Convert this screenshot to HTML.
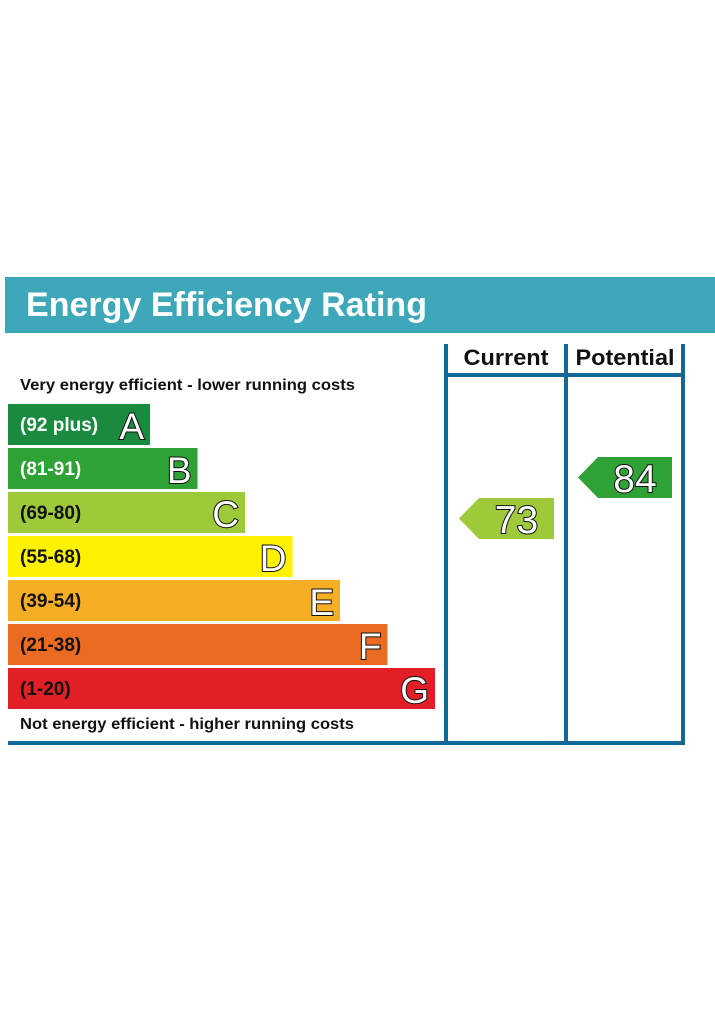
<!DOCTYPE html>
<html><head><meta charset="utf-8"><style>
html,body{margin:0;padding:0;background:#fff;}
svg{display:block;font-family:"Liberation Sans",Arial,sans-serif;}
</style></head><body>
<svg id="c" width="715" height="1033" viewBox="0 0 715 1033" xmlns="http://www.w3.org/2000/svg">
<rect x="5" y="277" width="710" height="56" fill="#3ea7b9"/>
<text x="26" y="316" font-size="34" font-weight="bold" fill="#fff" textLength="401" lengthAdjust="spacingAndGlyphs">Energy Efficiency Rating</text>
<text x="20" y="390" font-size="16" font-weight="bold" fill="#111" textLength="335" lengthAdjust="spacingAndGlyphs">Very energy efficient - lower running costs</text>
<text x="20" y="729" font-size="16" font-weight="bold" fill="#111" textLength="334" lengthAdjust="spacingAndGlyphs">Not energy efficient - higher running costs</text>
<g fill="#13679a">
<rect x="444" y="344" width="4" height="401"/>
<rect x="564" y="344" width="4" height="401"/>
<rect x="681" y="344" width="4" height="401"/>
<rect x="444" y="373" width="241" height="4"/>
<rect x="8" y="741" width="677" height="4"/>
</g>
<text x="506" y="365" font-size="22" font-weight="bold" text-anchor="middle" fill="#111" textLength="85" lengthAdjust="spacingAndGlyphs">Current</text>
<text x="625" y="365" font-size="22" font-weight="bold" text-anchor="middle" fill="#111" textLength="99" lengthAdjust="spacingAndGlyphs">Potential</text>
<g id="bands"></g>
<g id="arrows"></g>
</svg>
<script>
const bandLetters=["A","B","C","D","E","F","G"];
const bandRanges=["(92 plus)","(81-91)","(69-80)","(55-68)","(39-54)","(21-38)","(1-20)"];
const bandMins=[92,81,69,55,39,21,1];
const bandColors=["#1a8a3e","#2fa236","#9dc93b","#fff200","#f6ae25","#ec6b23","#e21e26"];
const currentRating=73;
const potentialRating=84;
const NS="http://www.w3.org/2000/svg";
function bandTop(i){return 404+i*44;}
function bandRight(i){return 150+i*47.5;}
function bandIndex(v){for(let i=0;i<bandMins.length;i++){if(v>=bandMins[i])return i;}return bandMins.length-1;}
const g=document.getElementById('bands');
bandLetters.forEach((L,i)=>{
  const y=bandTop(i),r=bandRight(i);
  const rect=document.createElementNS(NS,'rect');
  rect.setAttribute('x',8);rect.setAttribute('y',y);rect.setAttribute('width',r-8);rect.setAttribute('height',41);rect.setAttribute('fill',bandColors[i]);
  
  
  g.appendChild(rect);
  const t=document.createElementNS(NS,'text');
  t.setAttribute('x',20);t.setAttribute('y',y+27);t.setAttribute('font-size',19);t.setAttribute('font-weight','bold');
  t.setAttribute('fill',i<2?'#fff':'#111');t.textContent=bandRanges[i];
  
  
  g.appendChild(t);
  const l=document.createElementNS(NS,'text');
  l.setAttribute('x',r-6);l.setAttribute('y',y+35);l.setAttribute('font-size',37);l.setAttribute('text-anchor','end');
  l.setAttribute('fill','#fff');l.setAttribute('stroke','#111');l.setAttribute('stroke-width','2');l.setAttribute('paint-order','stroke');l.textContent=L;
  
  
  g.appendChild(l);
});
const ag=document.getElementById('arrows');
function arrow(v,tipX,rightX,name){
  const i=bandIndex(v);
  const yy=(i===2)?bandTop(i)+6:bandTop(i)+9;
  const h=41;
  const p=document.createElementNS(NS,'polygon');
  p.setAttribute('points',`${tipX},${yy+h/2} ${tipX+20},${yy} ${rightX},${yy} ${rightX},${yy+h} ${tipX+20},${yy+h}`);
  p.setAttribute('fill',bandColors[i]);
  
  
  ag.appendChild(p);
  const t=document.createElementNS(NS,'text');
  t.setAttribute('x',(tipX+20+rightX)/2);t.setAttribute('y',yy+35);t.setAttribute('font-size',39);t.setAttribute('text-anchor','middle');
  t.setAttribute('fill','#fff');t.setAttribute('stroke','#111');t.setAttribute('stroke-width','2');t.setAttribute('paint-order','stroke');t.textContent=v;
  
  
  ag.appendChild(t);
}
arrow(currentRating,459,554,'current');
arrow(potentialRating,578,672,'potential');
</script>
</body></html>
